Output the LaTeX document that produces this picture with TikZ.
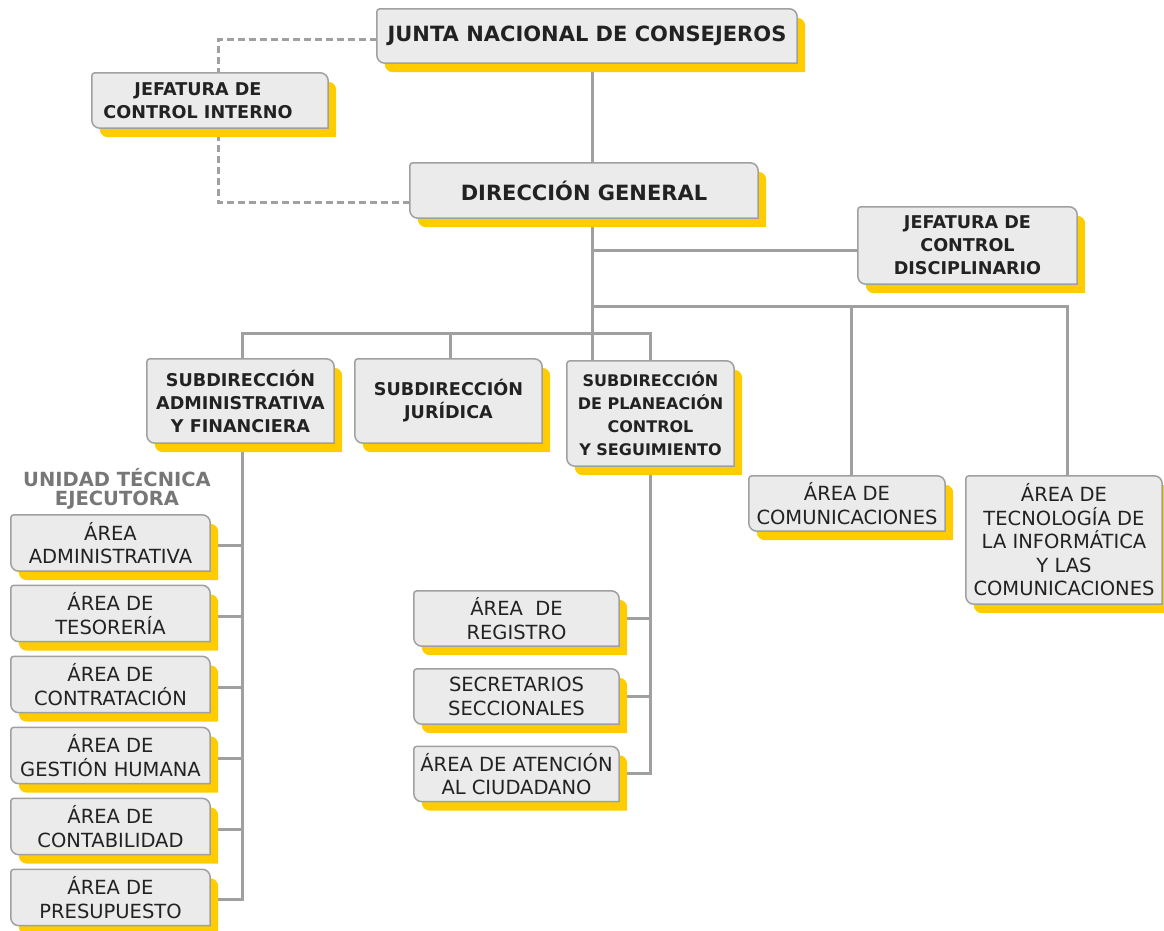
\documentclass[tikz,border=0pt]{standalone}
\usepackage{fontspec}
\setmainfont{DejaVu Sans}
\usetikzlibrary{backgrounds}

\definecolor{boxfill}{HTML}{EBEBEB}
\definecolor{boxline}{HTML}{A0A0A0}
\definecolor{shadowyellow}{HTML}{FFCC00}
\definecolor{linkgray}{HTML}{A0A0A0}
\definecolor{textdark}{HTML}{222222}
\definecolor{unitgray}{HTML}{777777}

% outline of a box: small round top left, sharp bottom right
\newcommand\boxoutline[2]{%
  ([#2]#1.south) -- ([#2]#1.south east) -- ([#2,yshift=-8pt]#1.north east)
  arc[start angle=0, end angle=90, radius=8pt] -- ([#2,xshift=3pt]#1.north west)
  arc[start angle=90, end angle=180, radius=3pt] -- ([#2,yshift=8pt]#1.south west)
  arc[start angle=180, end angle=270, radius=8pt] -- cycle}
% box with yellow shadow
\newcommand\drawbox[1]{%
  \fill[shadowyellow] \boxoutline{#1}{xshift=8pt,yshift=-9pt};
  \filldraw[fill=boxfill, draw=boxline, line width=1.5pt] \boxoutline{#1}{xshift=0pt};
}

\tikzset{
  cargo/.style={align=center, inner sep=0pt, text=textdark, font=\bfseries\fontsize{17.6}{23}\selectfont},
  cargobig/.style={cargo, font=\bfseries\fontsize{21}{24}\selectfont},
  area/.style={align=center, inner sep=0pt, text=textdark, font=\fontsize{19.5}{23.5}\selectfont},
  leftarea/.style={area, minimum width=199pt, minimum height=56pt},
  midarea/.style={area, minimum width=205pt, minimum height=55pt},
  link/.style={draw=linkgray, line width=3pt},
  dashlink/.style={link, dash pattern=on 7pt off 4pt},
}

\begin{document}
\begin{tikzpicture}[x=1pt,y=1pt]
\useasboundingbox (0,0) rectangle (1164,931);

% top level
\node[cargobig, minimum width=420pt, minimum height=54pt] (junta) at (587,895) {JUNTA NACIONAL DE CONSEJEROS};
\node[cargo, minimum width=236pt, minimum height=55pt] (jci) at (210,830.5) {JEFATURA DE\hspace*{24pt}\\CONTROL INTERNO\hspace*{24pt}};
\node[cargobig, minimum width=348pt, minimum height=55pt] (dg) at (584,740.5) {DIRECCIÓN GENERAL};
\node[cargo, minimum width=219pt, minimum height=77pt] (jcd) at (967.5,685.5) {JEFATURA DE\\CONTROL\\DISCIPLINARIO};

% subdirecciones
\node[cargo, minimum width=187pt, minimum height=84pt] (sadm) at (240.5,530) {SUBDIRECCIÓN\\ADMINISTRATIVA\\Y FINANCIERA};
\node[cargo, minimum width=187pt, minimum height=84pt] (sjur) at (448.5,530) {SUBDIRECCIÓN\\JURÍDICA};
\node[cargo, font=\bfseries\fontsize{16}{23}\selectfont, minimum width=167pt, minimum height=105pt] (splan) at (650.5,517.5) {SUBDIRECCIÓN\\DE PLANEACIÓN\\CONTROL\\Y SEGUIMIENTO};
\node[area, minimum width=196pt, minimum height=55pt] (acom) at (847,427.5) {ÁREA DE\\COMUNICACIONES};
\node[area, minimum width=196pt, minimum height=128pt] (atic) at (1064,391) {ÁREA DE\\TECNOLOGÍA DE\\LA INFORMÁTICA\\Y LAS\\COMUNICACIONES};

% unidad tecnica ejecutora
\node[align=center, inner sep=0pt, text=unitgray, font=\bfseries\fontsize{19.5}{19}\selectfont] (ute) at (117,442) {UNIDAD TÉCNICA\\EJECUTORA};
\node[leftarea] (aadm) at (110.5,388) {ÁREA\\ADMINISTRATIVA};
\node[leftarea] (ates) at (110.5,317.5) {ÁREA DE\\TESORERÍA};
\node[leftarea] (acon) at (110.5,246.5) {ÁREA DE\\CONTRATACIÓN};
\node[leftarea] (ages) at (110.5,175.5) {ÁREA DE\\GESTIÓN HUMANA};
\node[leftarea] (acnt) at (110.5,104.5) {ÁREA DE\\CONTABILIDAD};
\node[leftarea] (apre) at (110.5,33.5) {ÁREA DE\\PRESUPUESTO};

% planeacion
\node[midarea] (areg) at (516.5,312.5) {ÁREA\ \ DE\\REGISTRO};
\node[midarea] (asec) at (516.5,234.5) {SECRETARIOS\\SECCIONALES};
\node[midarea] (aciu) at (516.5,157) {ÁREA DE ATENCIÓN\\AL CIUDADANO};

\coordinate (trunk) at (592,0);
\coordinate (dashx) at (218,800);
\coordinate (bus1) at (592,624);
\coordinate (bus2) at (0,597);
\coordinate (lbus) at ([xshift=2pt]sadm.south);

\begin{pgfonlayer}{background}
% connectors
\draw[dashlink] ([yshift=-4pt]junta.west) -| (dashx) |- ([yshift=-12pt]dg.west);
\draw[link] (junta.south -| trunk) -- (splan.north -| trunk);
\draw[link] ([yshift=-5pt]jcd.west) -- ([yshift=-5pt]jcd.west -| trunk);
\draw[link] (bus1) -| ([xshift=3pt]atic.north);
\draw[link] ([xshift=4pt]acom.north) -- ([xshift=4pt]acom.north |- bus1);
\draw[link] ([xshift=2pt]sadm.north) |- (splan.north |- bus2) -- (splan.north);
\draw[link] ([xshift=2pt]sjur.north) -- ([xshift=2pt]sjur.north |- bus2);
\draw[link] (lbus) |- ([yshift=-2pt]apre.east);
\foreach \n in {aadm,ates,acon,ages,acnt}
  \draw[link] ([yshift=-3pt]\n.east) -- ([yshift=-3pt]\n.east -| lbus);
\draw[link] (splan.south) |- (aciu.east);
\foreach \n in {areg,asec}
  \draw[link] (\n.east) -- (\n.east -| splan.south);
% boxes
\foreach \n in {junta,jci,dg,jcd,sadm,sjur,splan,acom,atic,aadm,ates,acon,ages,acnt,apre,areg,asec,aciu}
  {\drawbox{\n}}
\end{pgfonlayer}

\end{tikzpicture}
\end{document}
